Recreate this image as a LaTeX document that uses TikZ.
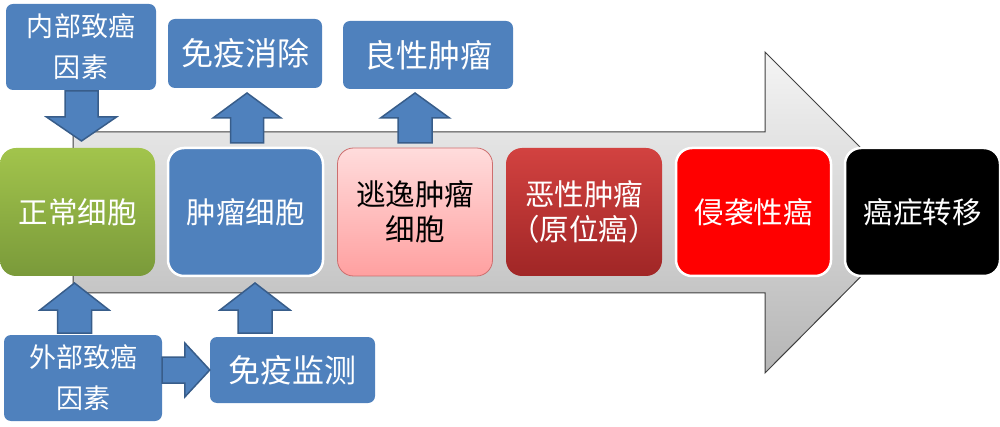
\documentclass[tikz,border=0pt]{standalone}
\usepackage{fontspec}
\newfontfamily\cjk{Noto Sans CJK SC}
\usetikzlibrary{calc}
\definecolor{pblue}{HTML}{4F81BD}
\definecolor{pblueD}{HTML}{385D8A}
\newcommand\blkup[5]{\draw[blk] let \p1=(#1),\p2=(#2) in
  (\x2-#3,\y1) -- (\x2-#3,\y2-#5) -- (\x2-#4,\y2-#5) -- (\x2,\y2) -- (\x2+#4,\y2-#5) -- (\x2+#3,\y2-#5) -- (\x2+#3,\y1) -- cycle;}
\newcommand\blkdown[5]{\draw[blk] let \p1=(#1),\p2=(#2) in
  (\x2-#3,\y1) -- (\x2-#3,\y2+#5) -- (\x2-#4,\y2+#5) -- (\x2,\y2) -- (\x2+#4,\y2+#5) -- (\x2+#3,\y2+#5) -- (\x2+#3,\y1) -- cycle;}
\newcommand\blkright[5]{\draw[blk] let \p1=(#1),\p2=(#2) in
  (\x1,\y2-#3) -- (\x2-#5,\y2-#3) -- (\x2-#5,\y2-#4) -- (\x2,\y2) -- (\x2-#5,\y2+#4) -- (\x2-#5,\y2+#3) -- (\x1,\y2+#3) -- cycle;}
\begin{document}
\begin{tikzpicture}[x=1pt,y=-1pt,
  blk/.style={fill=pblue,draw=pblueD,line width=1.5pt,line join=miter},
  stage/.style={rounded corners=16pt,minimum width=155pt,minimum height=128pt,inner sep=0pt,align=center,text=white,
    font=\cjk\fontsize{29.5}{35}\selectfont},
  bluebox/.style={rounded corners=7pt,fill=pblue,inner sep=0pt,align=center,text=white},
  big/.style={font=\cjk\fontsize{32}{36}\selectfont},
  two/.style={font=\cjk\fontsize{27}{41}\selectfont}]
\useasboundingbox (0,0) rectangle (1000,427);
% big process arrow
\draw[top color=black!4,bottom color=black!29,draw=black!75,line width=1pt]
  (73,132) -- (765,132) -- (765,52) -- (925,212) -- (765,373) -- (765,293) -- (73,293) -- cycle;
% top and bottom boxes
\node[bluebox,two,minimum width=150pt,minimum height=86pt] (inner) at (81,47) {内部致癌\\因素};
\node[bluebox,big,minimum width=154pt,minimum height=69pt] (elim) at (245,53.5) {免疫消除};
\node[bluebox,big,minimum width=170pt,minimum height=68pt] (benign) at (428,55) {良性肿瘤};
\node[bluebox,two,minimum width=158pt,minimum height=86pt] (outer) at (83,378) {外部致癌\\因素};
\node[bluebox,big,minimum width=165pt,minimum height=66pt] (monitor) at (292.5,370) {免疫监测};
% arrow end points
\coordinate (a1t) at (81.5,91);  \coordinate (a1h) at (81.5,141);
\coordinate (a2t) at (247,143);  \coordinate (a2h) at (247,93);
\coordinate (a3t) at (415,143);  \coordinate (a3h) at (415,93);
\coordinate (a4t) at (74.5,333); \coordinate (a4h) at (74.5,283);
\coordinate (a5t) at (255,333);  \coordinate (a5h) at (255,283);
\coordinate (a6t) at (outer.east |- monitor.west); \coordinate (a6h) at (monitor.west);
\blkdown{a1t}{a1h}{16.5pt}{35pt}{24pt}
\blkup{a2t}{a2h}{16.5pt}{34pt}{25pt}
\blkup{a3t}{a3h}{17pt}{34.5pt}{25pt}
\blkup{a4t}{a4h}{17pt}{34.5pt}{27pt}
\blkup{a5t}{a5h}{17pt}{35pt}{27pt}
\blkright{a6t}{a6h}{13pt}{27pt}{25pt}
% stage boxes
\node[stage,top color={rgb,255:red,162;green,196;blue,76},bottom color={rgb,255:red,122;green,154;blue,58}] (normal) at (77.5,212) {正常细胞};
\node[stage,fill=pblue,draw=white,line width=2.5pt] (tumor) at (245.5,212) {肿瘤细胞};
\node[stage,top color={rgb,255:red,255;green,220;blue,220},bottom color={rgb,255:red,255;green,160;blue,160},
  draw={rgb,255:red,205;green,110;blue,110},line width=0.8pt,text=black] (escape) at (415,212) {逃逸肿瘤\\细胞};
\node[stage,top color={rgb,255:red,210;green,66;blue,64},bottom color={rgb,255:red,160;green,38;blue,38},
  minimum width=156pt] (malig) at (584,212) {恶性肿瘤\\（原位癌）};
\node[stage,fill=red,draw=white,line width=2.5pt] (invasive) at (753.5,212) {侵袭性癌};
\node[stage,fill=black,draw=white,line width=2.5pt] (meta) at (922.5,212) {癌症转移};
\end{tikzpicture}
\end{document}
